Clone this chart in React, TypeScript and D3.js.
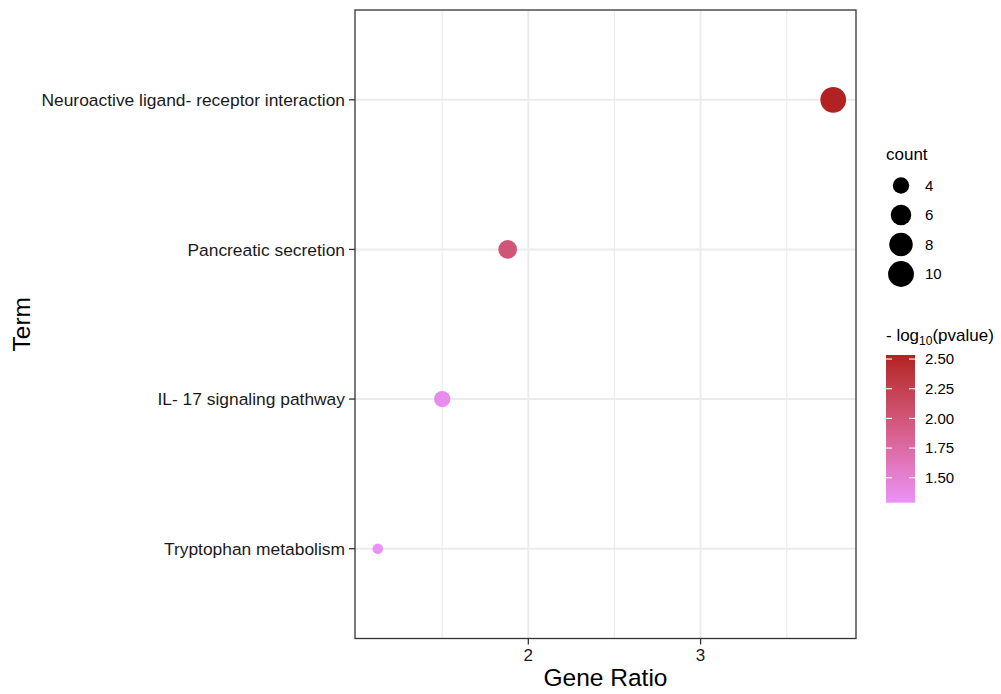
import React from "react";
import * as d3 from "d3";

const terms = [
  "Neuroactive ligand- receptor interaction",
  "Pancreatic secretion",
  "IL- 17 signaling pathway",
  "Tryptophan metabolism",
];
const geneRatio = [3.77, 1.88, 1.5, 1.126];
const counts = [10, 5, 4, 3];
const negLogP = [2.534, 2.0, 1.36, 1.29];
const xTicks = [2, 3];
const xMinor = [1.5, 2.5, 3.5];
const countBreaks = [4, 6, 8, 10];
const colorBreaks = [1.5, 1.75, 2.0, 2.25, 2.5];

const W = 1001;
const H = 694;
const panel = { left: 355, right: 856, top: 10, bottom: 638.5 };
const font = "'Liberation Sans', Arial, Helvetica, sans-serif";

export default function App() {
  const xmin = d3.min(geneRatio)!;
  const xmax = d3.max(geneRatio)!;
  const span = xmax - xmin;
  const x = d3
    .scaleLinear()
    .domain([xmin - 0.05 * span, xmax + 0.05 * span])
    .range([panel.left, panel.right]);
  const y = d3
    .scalePoint<string>()
    .domain(terms)
    .range([panel.top, panel.bottom])
    .padding(0.6);

  const cmin = d3.min(negLogP)!;
  const cmax = d3.max(negLogP)!;
  const colorT = d3.scaleLinear().domain([cmin, cmax]).range([0, 1]);
  const interp = d3.interpolateLab("#EA92F8", "#B22222");
  const color = (v: number) => interp(colorT(v));

  const sMin = d3.min(counts)!;
  const sMax = d3.max(counts)!;
  const sNorm = d3.scaleLinear().domain([sMin, sMax]).range([0, 1]);
  const rLin = d3.scaleLinear().domain([0, 1]).range([5.3, 12.9]);
  const radius = (c: number) => rLin(Math.sqrt(sNorm(c)));

  // colorbar
  const bar = { x: 886, w: 29, top: 355, bottom: 502.7 };
  const cb = d3.scaleLinear().domain([cmin, cmax]).range([bar.bottom, bar.top]);
  const stops = d3.range(0, 1.0001, 0.05);

  const legendCx = 901;
  const countY = [185.5, 215, 244.5, 274];

  return (
    <svg
      width={W}
      height={H}
      style={{ position: "absolute", left: 0, top: 0, background: "#fff" }}
      fontFamily={font}
    >
      <defs>
        <linearGradient id="cbar" x1="0" y1="1" x2="0" y2="0">
          {stops.map((t) => (
            <stop key={t} offset={t} stopColor={interp(t)} />
          ))}
        </linearGradient>
      </defs>
      <rect x={0} y={0} width={W} height={H} fill="#fff" />
      {xMinor.map((v) => (
        <line key={"mn" + v} x1={x(v)} x2={x(v)} y1={panel.top} y2={panel.bottom} stroke="#EBEBEB" strokeWidth={1.1} />
      ))}
      {xTicks.map((v) => (
        <line key={"mj" + v} x1={x(v)} x2={x(v)} y1={panel.top} y2={panel.bottom} stroke="#EBEBEB" strokeWidth={1.9} />
      ))}
      {terms.map((t) => (
        <line key={"gy" + t} x1={panel.left} x2={panel.right} y1={y(t)} y2={y(t)} stroke="#EBEBEB" strokeWidth={1.9} />
      ))}
      {terms.map((t, i) => (
        <circle key={"p" + t} cx={x(geneRatio[i])} cy={y(t)} r={radius(counts[i])} fill={color(negLogP[i])} />
      ))}
      <rect
        x={panel.left}
        y={panel.top}
        width={panel.right - panel.left}
        height={panel.bottom - panel.top}
        fill="none"
        stroke="#333333"
        strokeWidth={1.3}
      />
      {terms.map((t) => (
        <g key={"yl" + t}>
          <line x1={panel.left - 6} x2={panel.left} y1={y(t)} y2={y(t)} stroke="#333333" strokeWidth={1.3} />
          <text x={panel.left - 10} y={y(t)} dy="0.35em" textAnchor="end" fontSize={17.4} fill="#1a1a1a">
            {t}
          </text>
        </g>
      ))}
      {xTicks.map((v) => (
        <g key={"xl" + v}>
          <line x1={x(v)} x2={x(v)} y1={panel.bottom} y2={panel.bottom + 6} stroke="#333333" strokeWidth={1.3} />
          <text x={x(v)} y={panel.bottom + 22} textAnchor="middle" fontSize={17} fill="#1a1a1a">
            {v}
          </text>
        </g>
      ))}
      <text x={(panel.left + panel.right) / 2} y={686} textAnchor="middle" fontSize={24.5} fill="#000">
        Gene Ratio
      </text>
      <text transform={`translate(30,${(panel.top + panel.bottom) / 2}) rotate(-90)`} textAnchor="middle" fontSize={24.5} fill="#000">
        Term
      </text>
      <text x={886} y={160} fontSize={17} fill="#000">count</text>
      {countBreaks.map((c, i) => (
        <g key={"cl" + c}>
          <circle cx={legendCx} cy={countY[i]} r={radius(c)} fill="#000" />
          <text x={925} y={countY[i]} dy="0.35em" fontSize={15} fill="#000">
            {c}
          </text>
        </g>
      ))}
      <text x={886} y={341} fontSize={17} fill="#000">
        - log
        <tspan fontSize={12} dy={4}>10</tspan>
        <tspan dy={-4}>(pvalue)</tspan>
      </text>
      <rect x={bar.x} y={bar.top} width={bar.w} height={bar.bottom - bar.top} fill="url(#cbar)" />
      {colorBreaks.map((v) => (
        <g key={"cb" + v}>
          <line x1={bar.x} x2={bar.x + 6} y1={cb(v)} y2={cb(v)} stroke="#fff" strokeWidth={1.1} />
          <line x1={bar.x + bar.w - 6} x2={bar.x + bar.w} y1={cb(v)} y2={cb(v)} stroke="#fff" strokeWidth={1.1} />
          <text x={925} y={cb(v)} dy="0.35em" fontSize={15} fill="#000">
            {v.toFixed(2)}
          </text>
        </g>
      ))}
    </svg>
  );
}
